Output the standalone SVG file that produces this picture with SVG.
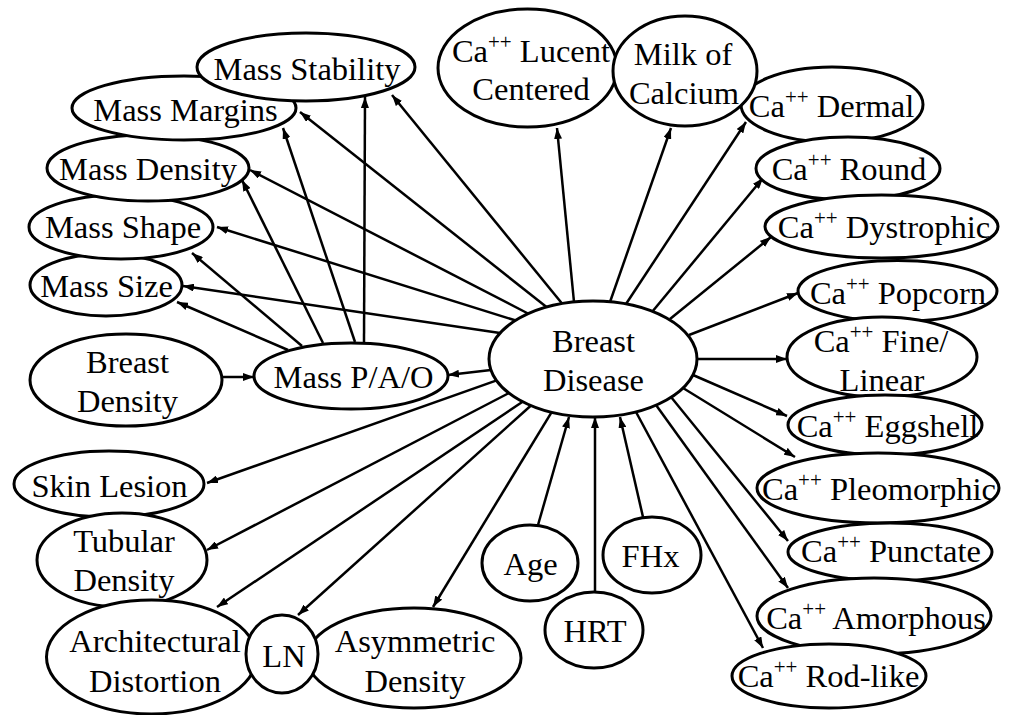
<svg xmlns="http://www.w3.org/2000/svg" width="1018" height="715" viewBox="0 0 1018 715">
<style>
.n{fill:#fff;stroke:#000;stroke-width:3}
.t{font-family:'Liberation Serif','Times New Roman',Times,serif;font-size:32.5px;fill:#000;text-anchor:middle}
.sup{font-size:21px}
.e{stroke:#000;stroke-width:2.5;fill:none;marker-end:url(#ah)}
</style>
<defs>
<marker id="ah" markerUnits="userSpaceOnUse" markerWidth="11" markerHeight="8" refX="11" refY="4" orient="auto">
<path d="M0,0 L11,4 L0,8 Z" fill="#000"/>
</marker>
</defs>
<rect width="1018" height="715" fill="#fff"/>
<g id="connectors">
<line class="e" x1="562" y1="303.5" x2="392" y2="95"/>
<line class="e" x1="546.5" y1="307" x2="300" y2="112"/>
<line class="e" x1="528" y1="313.5" x2="250" y2="170"/>
<line class="e" x1="515" y1="320.3" x2="217" y2="227"/>
<line class="e" x1="500" y1="333" x2="183" y2="286"/>
<line class="e" x1="491" y1="370" x2="448" y2="375"/>
<line class="e" x1="496" y1="380.6" x2="207" y2="483"/>
<line class="e" x1="509" y1="393" x2="207" y2="550"/>
<line class="e" x1="523" y1="401.5" x2="217" y2="607"/>
<line class="e" x1="531" y1="405.5" x2="298" y2="615"/>
<line class="e" x1="551.5" y1="412.3" x2="433" y2="607"/>
<line class="e" x1="574" y1="302" x2="557" y2="128"/>
<line class="e" x1="610" y1="302" x2="671" y2="128"/>
<line class="e" x1="626" y1="304" x2="746" y2="122"/>
<line class="e" x1="652" y1="312" x2="763" y2="178"/>
<line class="e" x1="670" y1="319" x2="771" y2="237"/>
<line class="e" x1="689" y1="335" x2="798" y2="293"/>
<line class="e" x1="697" y1="359" x2="787" y2="359"/>
<line class="e" x1="693" y1="375" x2="787" y2="416"/>
<line class="e" x1="683" y1="388" x2="795" y2="457"/>
<line class="e" x1="671" y1="397" x2="788" y2="541"/>
<line class="e" x1="656" y1="405" x2="788" y2="588"/>
<line class="e" x1="636" y1="412" x2="763" y2="648"/>
<line class="e" x1="538" y1="525" x2="569" y2="417"/>
<line class="e" x1="595" y1="592" x2="595" y2="417"/>
<line class="e" x1="643" y1="517" x2="620" y2="417"/>
<line class="e" x1="222" y1="377" x2="254" y2="377"/>
<line class="e" x1="288" y1="350" x2="177" y2="302"/>
<line class="e" x1="302" y1="346" x2="192" y2="253"/>
<line class="e" x1="323" y1="343" x2="242" y2="180"/>
<line class="e" x1="355" y1="342" x2="283" y2="128"/>
<line class="e" x1="364" y1="342" x2="365" y2="97"/>
</g>
<g id="mass_size"><ellipse class="n" cx="106" cy="285" rx="76" ry="31"/><text class="t" x="106.5" y="297">Mass Size</text></g>
<g id="mass_shape"><ellipse class="n" cx="121" cy="227" rx="92" ry="32"/><text class="t" x="123" y="238">Mass Shape</text></g>
<g id="mass_density"><ellipse class="n" cx="148" cy="168" rx="101" ry="33"/><text class="t" x="148" y="180">Mass Density</text></g>
<g id="mass_margins"><ellipse class="n" cx="184" cy="108" rx="112" ry="32"/><text class="t" x="185.5" y="121">Mass Margins</text></g>
<g id="mass_stability"><ellipse class="n" cx="306" cy="67" rx="109" ry="34"/><text class="t" x="307" y="80">Mass Stability</text></g>
<g id="breast_density"><ellipse class="n" cx="126" cy="380" rx="96" ry="46"/><text class="t" x="127.5" y="373">Breast</text><text class="t" x="127.5" y="412">Density</text></g>
<g id="mass_pao"><ellipse class="n" cx="351" cy="376" rx="97" ry="33"/><text class="t" x="353.5" y="388">Mass P/A/O</text></g>
<g id="skin_lesion"><ellipse class="n" cx="109" cy="484" rx="95" ry="33"/><text class="t" x="109.5" y="497">Skin Lesion</text></g>
<g id="tubular_density"><ellipse class="n" cx="122" cy="560" rx="85" ry="47"/><text class="t" x="124" y="552">Tubular</text><text class="t" x="124" y="591">Density</text></g>
<g id="architectural_distortion"><ellipse class="n" cx="151.5" cy="657" rx="105" ry="57"/><text class="t" x="155" y="652">Architectural</text><text class="t" x="155" y="692">Distortion</text></g>
<g id="asymmetric_density"><ellipse class="n" cx="414" cy="658" rx="107" ry="50"/><text class="t" x="415" y="652">Asymmetric</text><text class="t" x="415" y="692">Density</text></g>
<g id="ln"><ellipse class="n" cx="282" cy="654" rx="36" ry="39"/><text class="t" x="284" y="667">LN</text></g>
<g id="ca_lucent_centered"><ellipse class="n" cx="527.5" cy="68" rx="89.5" ry="59"/><text class="t" x="531" y="62">Ca<tspan class="sup" dy="-13">++</tspan><tspan dy="13"> Lucent</tspan></text><text class="t" x="531" y="100">Centered</text></g>
<g id="ca_dermal"><ellipse class="n" cx="832" cy="104.5" rx="91" ry="37.5"/><text class="t" x="831.5" y="117">Ca<tspan class="sup" dy="-13">++</tspan><tspan dy="13"> Dermal</tspan></text></g>
<g id="milk_of_calcium"><ellipse class="n" cx="685" cy="71" rx="72" ry="55"/><text class="t" x="683" y="65">Milk of</text><text class="t" x="684" y="104">Calcium</text></g>
<g id="ca_round"><ellipse class="n" cx="848" cy="168.5" rx="92" ry="31.5"/><text class="t" x="849" y="180">Ca<tspan class="sup" dy="-13">++</tspan><tspan dy="13"> Round</tspan></text></g>
<g id="ca_dystrophic"><ellipse class="n" cx="881.5" cy="226.5" rx="116.5" ry="31.5"/><text class="t" x="884" y="238">Ca<tspan class="sup" dy="-13">++</tspan><tspan dy="13"> Dystrophic</tspan></text></g>
<g id="ca_popcorn"><ellipse class="n" cx="897.5" cy="291" rx="99.5" ry="30.5"/><text class="t" x="898" y="304">Ca<tspan class="sup" dy="-13">++</tspan><tspan dy="13"> Popcorn</tspan></text></g>
<g id="ca_fine_linear"><ellipse class="n" cx="882" cy="357" rx="95" ry="40"/><text class="t" x="881" y="352">Ca<tspan class="sup" dy="-13">++</tspan><tspan dy="13"> Fine/</tspan></text><text class="t" x="882" y="391">Linear</text></g>
<g id="ca_eggshell"><ellipse class="n" cx="885" cy="425" rx="97" ry="30"/><text class="t" x="887.5" y="437">Ca<tspan class="sup" dy="-13">++</tspan><tspan dy="13"> Eggshell</tspan></text></g>
<g id="ca_pleomorphic"><ellipse class="n" cx="878" cy="488" rx="121" ry="35"/><text class="t" x="879" y="500">Ca<tspan class="sup" dy="-13">++</tspan><tspan dy="13"> Pleomorphic</tspan></text></g>
<g id="ca_punctate"><ellipse class="n" cx="890" cy="552" rx="102" ry="29"/><text class="t" x="891" y="562">Ca<tspan class="sup" dy="-13">++</tspan><tspan dy="13"> Punctate</tspan></text></g>
<g id="ca_amorphous"><ellipse class="n" cx="874" cy="616" rx="117" ry="38"/><text class="t" x="876" y="629">Ca<tspan class="sup" dy="-13">++</tspan><tspan dy="13"> Amorphous</tspan></text></g>
<g id="ca_rodlike"><ellipse class="n" cx="829" cy="676" rx="97" ry="32"/><text class="t" x="828.5" y="687">Ca<tspan class="sup" dy="-13">++</tspan><tspan dy="13"> Rod-like</tspan></text></g>
<g id="age"><ellipse class="n" cx="530" cy="563" rx="48" ry="38"/><text class="t" x="530.5" y="575">Age</text></g>
<g id="hrt"><ellipse class="n" cx="594" cy="630" rx="49" ry="38"/><text class="t" x="595" y="642">HRT</text></g>
<g id="fhx"><ellipse class="n" cx="652" cy="555" rx="49" ry="38"/><text class="t" x="650.5" y="567">FHx</text></g>
<g id="breast_disease"><ellipse class="n" cx="593" cy="359" rx="104" ry="58"/><text class="t" x="593.5" y="352">Breast</text><text class="t" x="593.5" y="391">Disease</text></g>
</svg>
